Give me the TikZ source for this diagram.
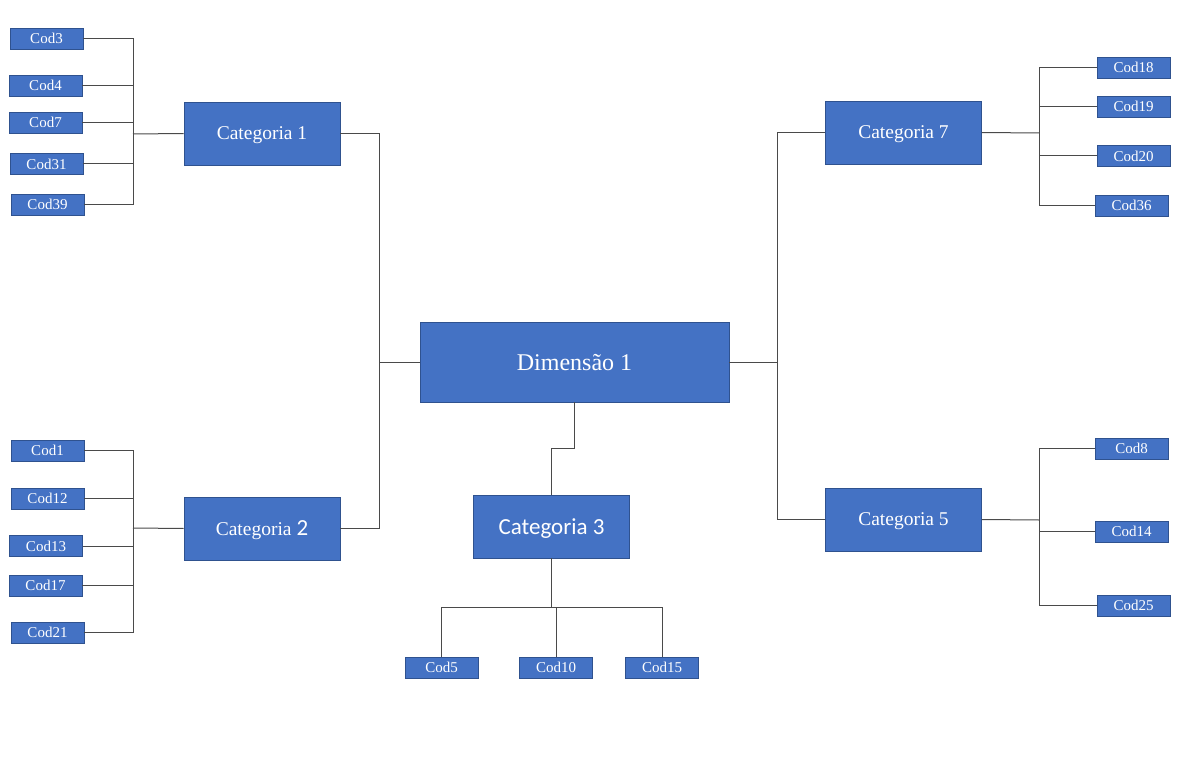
\documentclass[tikz,border=0pt]{standalone}
\usepackage{fontspec}
\setmainfont{Liberation Serif}
\newfontfamily\calibri{Carlito}
\definecolor{boxblue}{HTML}{4472C4}
\definecolor{boxedge}{HTML}{2F528F}
\definecolor{linkgray}{HTML}{4A4A4A}
\tikzset{
    codbox/.style={draw=boxedge, line width=0.8pt, fill=boxblue, text=white,
        inner sep=0pt, minimum width=73pt, minimum height=21pt, text depth=0pt,
        font=\fontsize{15}{15}\selectfont},
    catbox/.style={draw=boxedge, line width=0.8pt, fill=boxblue, text=white,
        inner sep=0pt, minimum width=156pt, minimum height=63pt, text depth=0pt,
        font=\fontsize{19.5}{19.5}\selectfont},
    dimbox/.style={draw=boxedge, line width=0.8pt, fill=boxblue, text=white,
        inner sep=0pt, minimum width=309pt, minimum height=80pt, text depth=0pt,
        font=\fontsize{24}{24}\selectfont},
    link/.style={draw=linkgray, line width=1pt}
}
\begin{document}
\begin{tikzpicture}[x=1pt, y=-1pt]
    \useasboundingbox (0,0) rectangle (1203,773);

    % Centre
    \node[dimbox] (dim) at (574.5,362) {Dimensão 1};

    % Categories
    \node[catbox] (cat1) at (262,133.5) {Categoria 1};
    \node[catbox] (cat2) at (262,528.5) {Categoria {\calibri\fontsize{23}{23}\selectfont 2}};
    \node[catbox, font=\calibri\fontsize{23}{23}\selectfont] (cat3) at (551.5,526.5) {Categoria 3};
    \node[catbox] (cat7) at (903.5,132.5) {Categoria 7};
    \node[catbox] (cat5) at (903.5,519.5) {Categoria 5};

    % Codes of Categoria 1
    \foreach \n/\x/\y in {3/46.5/38.5, 4/45.5/85.5, 7/45.5/122.5, 31/46.5/164, 39/47.5/204.5}
        \node[codbox] (cod\n) at (\x,\y) {Cod\n};
    % Codes of Categoria 2
    \foreach \n/\x/\y in {1/47.5/450.5, 12/47.5/498.5, 13/46/546, 17/45.5/585.5, 21/47.5/632.5}
        \node[codbox] (cod\n) at (\x,\y) {Cod\n};
    % Codes of Categoria 3
    \foreach \n/\x in {5/441.5, 10/556, 15/662}
        \node[codbox] (cod\n) at (\x,667.5) {Cod\n};
    % Codes of Categoria 7
    \foreach \n/\x/\y in {18/1133.5/67.5, 19/1133.5/106.5, 20/1133.5/156, 36/1131.5/205.5}
        \node[codbox] (cod\n) at (\x,\y) {Cod\n};
    % Codes of Categoria 5
    \foreach \n/\x/\y in {8/1131.5/448.5, 14/1131.5/531.5, 25/1133.5/605.5}
        \node[codbox] (cod\n) at (\x,\y) {Cod\n};

    % Bus points
    \coordinate (left) at (379,362);
    \coordinate (right) at (777,362);
    \coordinate (mid) at (574.5,448);
    \coordinate (b1) at (133,134);
    \coordinate (b2) at (133,528);
    \coordinate (b3) at (551.5,607);
    \coordinate (b7) at (1039,133);
    \coordinate (b5) at (1039,520);

    % Dimensão to categories
    \draw[link] (dim.west) -- (left) |- (cat1.east);
    \draw[link] (left) |- (cat2.east);
    \draw[link] (dim.east) -- (right) |- (cat7.west);
    \draw[link] (right) |- (cat5.west);
    \draw[link] (dim.south) -- (mid) -| (cat3.north);

    % Categories to codes
    \draw[link] (cat1.west) -- (b1);
    \foreach \n in {3,4,7,31,39}
        \draw[link] (b1) |- (cod\n.east);
    \draw[link] (cat2.west) -- (b2);
    \foreach \n in {1,12,13,17,21}
        \draw[link] (b2) |- (cod\n.east);
    \draw[link] (cat3.south) -- (b3);
    \foreach \n in {5,10,15}
        \draw[link] (b3) -| (cod\n.north);
    \draw[link] (cat7.east) -- (b7);
    \foreach \n in {18,19,20,36}
        \draw[link] (b7) |- (cod\n.west);
    \draw[link] (cat5.east) -- (b5);
    \foreach \n in {8,14,25}
        \draw[link] (b5) |- (cod\n.west);
\end{tikzpicture}
\end{document}
